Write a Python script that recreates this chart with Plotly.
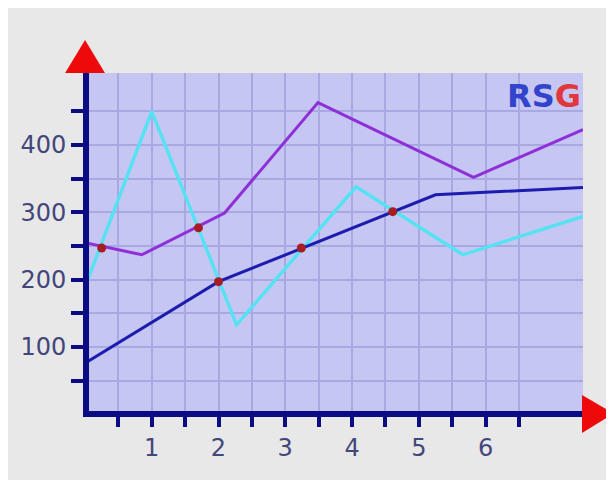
import plotly.graph_objects as go

# ---- data ----
x_tick_vals = [0.5, 1, 1.5, 2, 2.5, 3, 3.5, 4, 4.5, 5, 5.5, 6, 6.5]
x_tick_text = ["", "1", "", "2", "", "3", "", "4", "", "5", "", "6", ""]
y_tick_vals = [50, 100, 150, 200, 250, 300, 350, 400, 450]
y_tick_text = ["", "100", "", "200", "", "300", "", "400", ""]

cyan_x = [0, 1.0, 2.27, 4.06, 5.66, 7.46]
cyan_y = [189, 450, 133, 338, 237, 294]

purple_x = [0, 0.85, 2.09, 3.49, 5.82, 7.46]
purple_y = [255, 237, 299, 463, 352, 423]

blue_x = [0, 2.0, 5.25, 7.46]
blue_y = [76, 197, 326, 337]

dot_x = [0.25, 1.7, 2.0, 3.24, 4.61]
dot_y = [247, 277, 197, 247, 301]

# ---- styles ----
NAVY = "#0b0b84"
RED = "#ee0a0a"

fig = go.Figure()
fig.add_trace(go.Scatter(x=cyan_x, y=cyan_y, mode="lines",
                         line=dict(color="#55e2f2", width=3.4), showlegend=False))
fig.add_trace(go.Scatter(x=purple_x, y=purple_y, mode="lines",
                         line=dict(color="#8f2fd8", width=3), showlegend=False))
fig.add_trace(go.Scatter(x=blue_x, y=blue_y, mode="lines",
                         line=dict(color="#1c1cae", width=3), showlegend=False))
fig.add_trace(go.Scatter(x=dot_x, y=dot_y, mode="markers",
                         marker=dict(color="#a61e24", size=9), showlegend=False))

tickfont = dict(family="DejaVu Sans", size=24, color="#43467a")

fig.update_layout(
    width=606, height=472,
    margin=dict(l=79, r=31, t=65, b=69),
    paper_bgcolor="#e8e8e8",
    plot_bgcolor="#c6c6f3",
    xaxis=dict(range=[0.06, 7.46], tickvals=x_tick_vals, ticktext=x_tick_text,
               showgrid=True, gridcolor="#a8a8e2", gridwidth=1.5,
               showline=True, linecolor=NAVY, linewidth=6,
               ticks="outside", ticklen=10, tickwidth=4, tickcolor=NAVY,
               tickfont=tickfont, zeroline=False, fixedrange=True),
    yaxis=dict(range=[4.9, 507], tickvals=y_tick_vals, ticktext=y_tick_text,
               showgrid=True, gridcolor="#a8a8e2", gridwidth=1.5,
               showline=True, linecolor=NAVY, linewidth=6,
               ticks="outside", ticklen=12, tickwidth=4, tickcolor=NAVY,
               tickfont=tickfont, zeroline=False, fixedrange=True),
    shapes=[
        dict(type="path", xref="paper", yref="paper", layer="above",
             path="M -0.0484 1.0 L 0.0323 1.0 L -0.008 1.0976 Z",
             fillcolor=RED, line=dict(width=0)),
        dict(type="path", xref="paper", yref="paper", layer="above",
             path="M 0.998 0.0473 L 0.998 -0.0651 L 1.0625 -0.0074 Z",
             fillcolor=RED, line=dict(width=0)),
    ],
    annotations=[
        dict(xref="paper", yref="paper", x=1.0, y=(411 - 96) / 338,
             xanchor="right", yanchor="middle", showarrow=False,
             text="<b><span style='color:#3344cc'>RS</span><span style='color:#e0383c'>G</span></b>",
             font=dict(family="DejaVu Sans", size=32)),
    ],
)

fig.write_html("out.html")
